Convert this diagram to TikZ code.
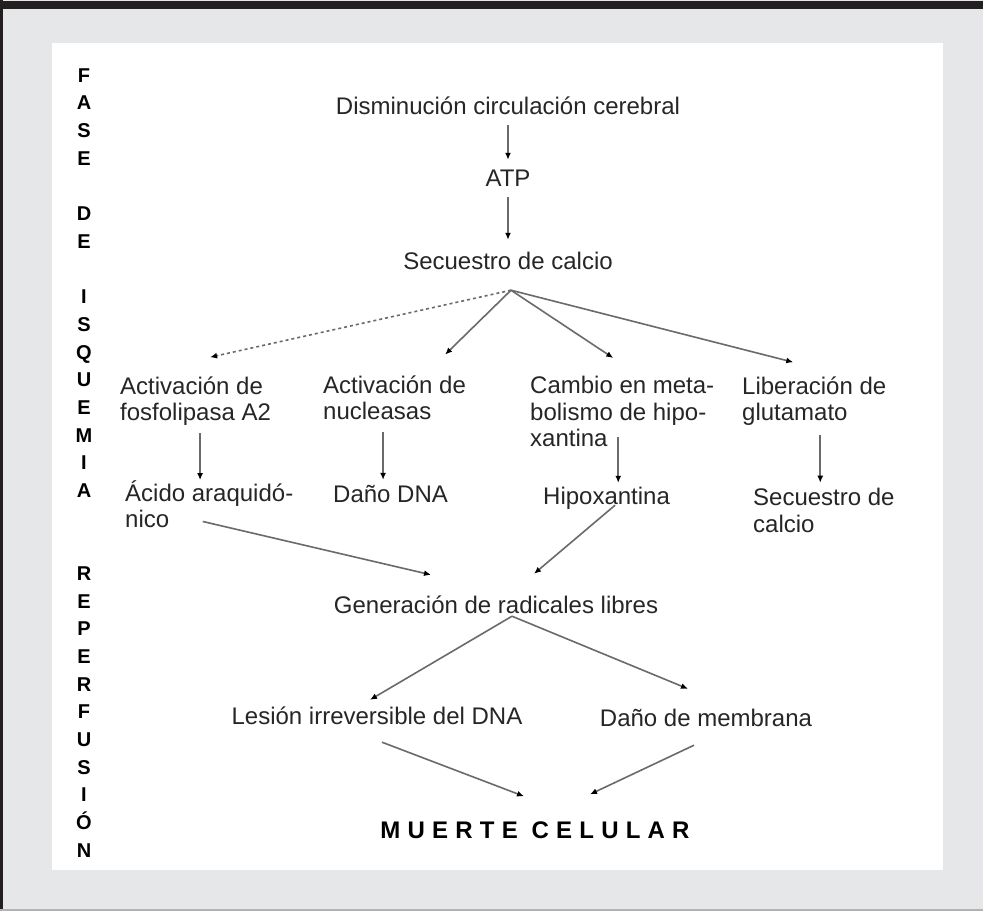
\documentclass[tikz,border=0pt]{standalone}
\usepackage{fontspec}
\setmainfont{Liberation Sans}
\newfontfamily\widefont[LetterSpace=30]{Liberation Sans}
\usetikzlibrary{arrows.meta}
\definecolor{panelgray}{HTML}{E6E7E8}
\definecolor{framedark}{HTML}{231F20}
\definecolor{linegray}{HTML}{6A6A6A}
\tikzstyle{txt} = [inner sep=0pt, text=black!85, font=\fontsize{24}{26.5}\selectfont, text height=17pt, text depth=5pt]
\tikzstyle{block} = [inner sep=0pt, text=black!85, font=\fontsize{24}{26.5}\selectfont, align=left, anchor=west]
\tikzstyle{phase} = [inner sep=0pt, text=black, font=\fontsize{20}{27.7}\selectfont\bfseries, align=center]
\tikzstyle{arrow} = [line width=1.6pt, draw=linegray, -{Latex[length=7pt,width=6pt,color=black]}]

\begin{document}
\begin{tikzpicture}[x=1pt, y=-1pt]
% frame and panel
\fill [panelgray] (0,0) rectangle (983,911);
\fill [framedark] (0,1) rectangle (983,9);
\fill [framedark] (0,0) rectangle (3,911);
\fill [gray!60] (0,909) rectangle (983,911);
\fill [white] (52,43) rectangle (943,870);
\useasboundingbox (0,0) rectangle (983,911);

% phases
\node (isq) [phase] at (84,283) {F\\A\\S\\E\\~\\D\\E\\~\\I\\S\\Q\\U\\E\\M\\I\\A};
\node (rep) [phase] at (84,712) {R\\E\\P\\E\\R\\F\\U\\S\\I\\Ó\\N};

\node (dism) [txt] at (508,108) {Disminución circulación cerebral};
\node (atp) [txt] at (508,180) {ATP};
\node (secu) [txt] at (508,263) {Secuestro de calcio};
\node (fosf) [block] at (120,401) {Activación de\\fosfolipasa A2};
\node (nucl) [block] at (323,398) {Activación de\\nucleasas};
\node (camb) [block] at (530,411.5) {Cambio en meta-\\bolismo de hipo-\\xantina};
\node (libe) [block] at (742,401) {Liberación de\\glutamato};
\node (acid) [block] at (125,504) {Ácido araquidó-\\nico};
\node (dano) [txt, anchor=west] at (333,496) {Daño DNA};
\node (hipo) [txt, anchor=west] at (543,498) {Hipoxantina};
\node (secc) [block] at (753,510.5) {Secuestro de\\calcio};
\node (gene) [txt] at (496,607) {Generación de radicales libres};
\node (lesi) [txt] at (377,718) {Lesión irreversible del DNA};
\node (memb) [txt] at (706,720) {Daño de membrana};
\node (muer) [txt, text=black, font=\widefont\fontsize{24}{26}\selectfont\bfseries, text height=17pt, text depth=0pt] at (535,830) {MUERTE CELULAR};

\coordinate (split) at ([xshift=3pt,yshift=-16pt]secu.south);
\coordinate (gsplit) at ([xshift=16pt,yshift=2pt]gene.south);

\draw [arrow, shorten <=6pt, shorten >=9pt] (dism) -- (atp);
\draw [arrow, shorten <=6pt, shorten >=12pt] (atp) -- (secu);
\draw [arrow, dashed] (split) -- ([xshift=14.5pt,yshift=19pt]fosf.north);
\draw [arrow] (split) -- ([xshift=-21pt,yshift=21pt]nucl.north east);
\draw [arrow] (split) -- ([xshift=-9pt,yshift=18pt]camb.north);
\draw [arrow] (split) -- ([xshift=-21pt,yshift=14pt]libe.north);
\draw [arrow] ([xshift=4.5pt,yshift=-7.5pt]fosf.south) -- ([xshift=4.5pt]fosf.south |- acid.north);
\draw [arrow] ([xshift=-11.5pt,yshift=-11.5pt]nucl.south) -- ([xshift=-11.5pt,yshift=5pt]nucl.south |- dano.north);
\draw [arrow] ([xshift=-4pt,yshift=10pt]camb.south) -- ([xshift=-4pt,yshift=4pt]camb.south |- hipo.north);
\draw [arrow] ([xshift=6pt,yshift=-9.5pt]libe.south) -- ([xshift=6pt,yshift=5.5pt]libe.south |- secc.north);
\draw [arrow] ([xshift=-6.5pt,yshift=6.5pt]acid.south) -- ([xshift=-65pt,yshift=21pt]gene.north);
\draw [arrow] ([xshift=8.5pt,yshift=4pt]hipo.south) -- ([xshift=38pt,yshift=22pt]gene.north);
\draw [arrow] (gsplit) -- ([xshift=-7pt,yshift=7pt]lesi.north);
\draw [arrow] (gsplit) -- ([xshift=-18pt,yshift=20pt]memb.north);
\draw [arrow] ([xshift=5pt,yshift=-13pt]lesi.south) -- ([xshift=-11pt,yshift=25pt]muer.north);
\draw [arrow] ([xshift=-12pt,yshift=-14pt]memb.south) -- ([xshift=55pt,yshift=27pt]muer.north);
\end{tikzpicture}
\end{document}
